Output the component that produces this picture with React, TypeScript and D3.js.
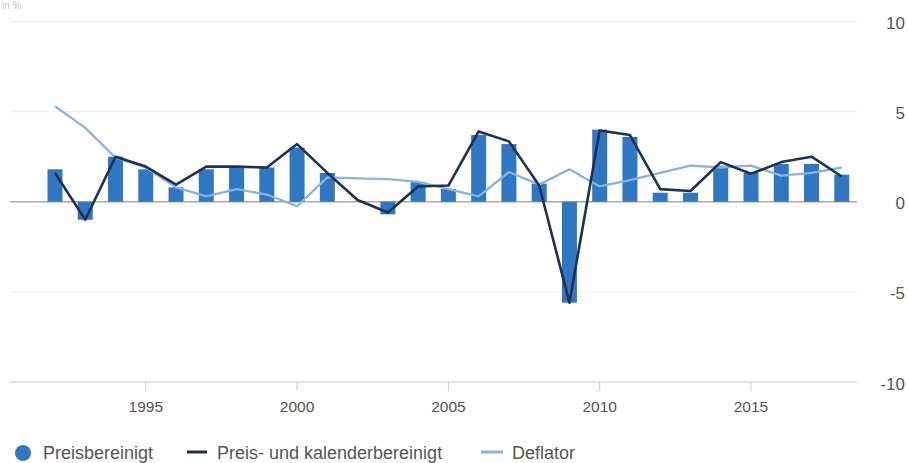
import React from "react";
import * as d3 from "d3";

const years = d3.range(1992, 2019);
const preisbereinigt = [1.8, -1.0, 2.5, 1.8, 0.8, 1.8, 1.9, 1.9, 3.0, 1.6, 0.0, -0.7, 1.1, 0.7, 3.7, 3.2, 1.0, -5.6, 4.0, 3.6, 0.5, 0.5, 2.0, 1.6, 2.1, 2.1, 1.5];
const kalenderbereinigt = [1.6, -1.0, 2.5, 1.95, 0.95, 1.95, 1.95, 1.9, 3.2, 1.6, 0.1, -0.6, 0.85, 0.9, 3.9, 3.35, 0.9, -5.6, 3.95, 3.7, 0.7, 0.6, 2.2, 1.55, 2.2, 2.5, 1.4];
const deflator = [5.3, 4.1, 2.45, 1.9, 0.8, 0.3, 0.7, 0.4, -0.25, 1.35, 1.3, 1.25, 1.1, 0.7, 0.3, 1.65, 0.95, 1.8, 0.85, 1.2, 1.6, 2.0, 1.9, 2.0, 1.45, 1.6, 1.9];
const yTicks = [10, 5, 0, -5, -10];
const xTicks = [1995, 2000, 2005, 2010, 2015];
const legendLabels = ["Preisbereinigt", "Preis- und kalenderbereinigt", "Deflator"];
const unitLabel = "in %";

const W = 908;
const H = 463;
const FONT = "'Liberation Sans', Arial, sans-serif";
const BAR = "#2f77c3";
const DARK = "#1d3150";
const LIGHT = "#86b3df";

export default function App() {
  const x = d3.scaleLinear().domain([1992, 2015]).range([55, 751]);
  const y = d3.scaleLinear().domain([-10, 10]).range([382, 21.5]);
  const bw = 15;
  const line = d3
    .line<number>()
    .x((_, i) => x(years[i]))
    .y((d) => y(d));

  return (
    <svg
      width={W}
      height={H}
      style={{ position: "absolute", left: 0, top: 0, background: "#fff" }}
      fontFamily={FONT}
    >
      <text x={2} y={9} fontSize={10} fill="#c4c4c4">{unitLabel}</text>
      {yTicks.map((t) => (
        <g key={t}>
          <line
            x1={10}
            x2={857}
            y1={y(t)}
            y2={y(t)}
            stroke={t === 0 ? "#a9a9a9" : t === -10 ? "#c8c8c8" : "#ececec"}
            strokeWidth={t === 0 ? 1.5 : 1}
          />
          <text x={905} y={y(t) + 7.5} textAnchor="end" fontSize={17} fill="#555">
            {t}
          </text>
        </g>
      ))}
      {xTicks.map((t) => (
        <g key={t}>
          <line x1={x(t)} x2={x(t)} y1={y(-10)} y2={y(-10) + 9} stroke="#c8c8c8" />
          <text x={x(t)} y={412} textAnchor="middle" fontSize={15.5} fill="#555">
            {t}
          </text>
        </g>
      ))}
      {preisbereinigt.map((v, i) => (
        <rect
          key={years[i]}
          x={x(years[i]) - bw / 2}
          width={bw}
          y={Math.min(y(v), y(0))}
          height={Math.abs(y(v) - y(0))}
          fill={BAR}
        />
      ))}
      <path d={line(deflator) || ""} fill="none" stroke={LIGHT} strokeWidth={2.3} strokeLinejoin="round" />
      <path d={line(kalenderbereinigt) || ""} fill="none" stroke={DARK} strokeWidth={2.6} strokeLinejoin="round" />
      <g fontSize={18} fill="#555">
        <circle cx={23} cy={453} r={8} fill={BAR} />
        <text x={43} y={459}>{legendLabels[0]}</text>
        <line x1={187} x2={207} y1={452} y2={452} stroke={DARK} strokeWidth={3} />
        <text x={217} y={459}>{legendLabels[1]}</text>
        <line x1={481} x2={503} y1={452} y2={452} stroke={LIGHT} strokeWidth={3} />
        <text x={512} y={459}>{legendLabels[2]}</text>
      </g>
    </svg>
  );
}
